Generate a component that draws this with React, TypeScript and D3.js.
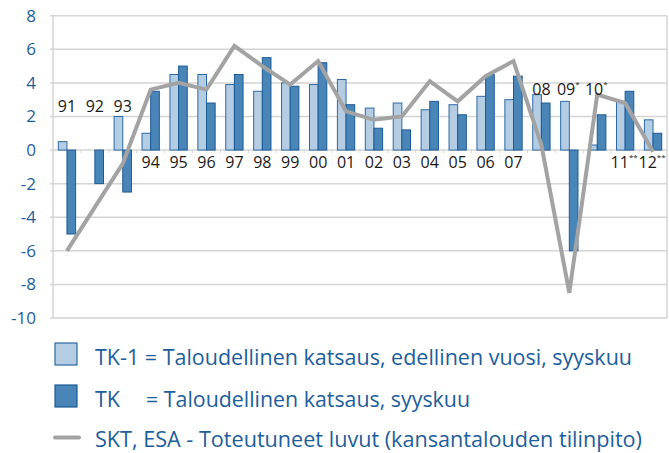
import React from "react";
import * as d3 from "d3";

const categories = ["91","92","93","94","95","96","97","98","99","00","01","02","03","04","05","06","07","08","09","10","11","12"];
const tk1Values: (number | null)[] = [0.5, null, 2.0, 1.0, 4.5, 4.5, 3.9, 3.5, 4.0, 3.9, 4.2, 2.5, 2.8, 2.4, 2.7, 3.2, 3.0, 3.3, 2.9, 0.3, 2.9, 1.8];
const tkValues: number[] = [-5.0, -2.0, -2.5, 3.5, 5.0, 2.8, 4.5, 5.5, 3.8, 5.2, 2.7, 1.3, 1.2, 2.9, 2.1, 4.5, 4.4, 2.8, -6.0, 2.1, 3.5, 1.0];
const sktValues: number[] = [-6.0, -3.4, -0.8, 3.6, 4.0, 3.6, 6.2, 5.0, 3.9, 5.3, 2.3, 1.8, 2.0, 4.1, 2.9, 4.4, 5.3, 0.3, -8.5, 3.3, 2.8, -0.1];
// label placement: "above" or "below" the zero line, plus superscript marks
const labelPos = ["above","above","above","below","below","below","below","below","below","below","below","below","below","below","below","below","below","above","above","above","below","below"];
const labelMarks = ["","","","","","","","","","","","","","","","","","","*","*","**","**"];
const yTicks = [8, 6, 4, 2, 0, -2, -4, -6, -8, -10];

const legendItems = [
  { key: "tk1", label: "TK-1 = Taloudellinen katsaus, edellinen vuosi, syyskuu" },
  { key: "tk", label: "= Taloudellinen katsaus, syyskuu", prefix: "TK" },
  { key: "skt", label: "SKT, ESA - Toteutuneet luvut (kansantalouden tilinpito)" },
];

const W = 669, H = 453;
const left = 53, right = 667, top = 15.7, bottom = 318;
const blue = "#1d5e9c";
const lightFill = "#b5cde3";
const lightStroke = "#2b6aa6";
const darkFill = "#4a85b8";
const darkStroke = "#1c5a97";
const lineColor = "#a3a3a3";
const gridColor = "#d4d4d4";
const font = "'Open Sans', sans-serif";

export default function App() {
  const x = d3.scaleBand<string>().domain(categories).range([left, right]).padding(0);
  const y = d3.scaleLinear().domain([-10, 8]).range([bottom, top]);
  const bw = x.bandwidth();
  const barW = bw * 0.31;
  const cx = (c: string) => (x(c) as number) + bw / 2;
  const y0 = y(0);

  const line = d3.line<number>()
    .x((_, i) => cx(categories[i]))
    .y((d) => y(d));

  return (
    <div style={{ position: "absolute", left: 0, top: 0 }}>
      <svg width={W} height={H} style={{ display: "block", background: "#fff" }}>
        {/* gridlines */}
        {yTicks.map((t) => (
          <g key={t}>
            <line x1={left - 3} x2={right} y1={y(t)} y2={y(t)} stroke={gridColor} strokeWidth={1.5} />
            <text x={36} y={y(t) + 6} textAnchor="end" fontFamily={font} fontSize={17} fill={blue}>{t}</text>
          </g>
        ))}
        <line x1={left} x2={left} y1={top} y2={bottom} stroke={gridColor} strokeWidth={1.5} />
        <line x1={right} x2={right} y1={top} y2={bottom} stroke={gridColor} strokeWidth={1.5} />
        {/* category ticks on zero line */}
        {categories.map((c) => (
          <line key={"t" + c} x1={x(c) as number} x2={x(c) as number} y1={y0} y2={y0 + 3} stroke={gridColor} strokeWidth={1} />
        ))}
        {/* bars */}
        {categories.map((c, i) => {
          const v1 = tk1Values[i];
          const v2 = tkValues[i];
          const c0 = cx(c);
          return (
            <g key={"b" + c}>
              {v1 !== null && (
                <rect x={c0 - barW} y={Math.min(y(v1), y0)} width={barW} height={Math.abs(y(v1) - y0)}
                  fill={lightFill} stroke={lightStroke} strokeWidth={1} />
              )}
              <rect x={c0} y={Math.min(y(v2), y0)} width={barW} height={Math.abs(y(v2) - y0)}
                fill={darkFill} stroke={darkStroke} strokeWidth={1} />
            </g>
          );
        })}
        {/* line */}
        <path d={line(sktValues) || ""} fill="none" stroke={lineColor} strokeWidth={4} strokeLinejoin="miter" strokeMiterlimit={3} />
        {/* year labels */}
        {categories.map((c, i) => {
          const above = labelPos[i] === "above";
          const by = above ? (i < 3 ? 112.3 : 95) : 168.3;
          const mark = labelMarks[i];
          return (
            <text key={"l" + c} x={cx(c) + (mark ? -1 : 0)} y={by} textAnchor="middle" fontFamily={font} fontSize={16} fill="#1a1a1a">
              {c}
              {mark && <tspan fontSize={8} dy={-8}>{mark}</tspan>}
            </text>
          );
        })}
        {/* legend */}
        <rect x={55} y={343} width={22} height={22} fill={lightFill} stroke={lightStroke} strokeWidth={1.2} />
        <text x={95} y={365} fontFamily={font} fontSize={21} fill={blue} textLength={537} lengthAdjust="spacingAndGlyphs">{legendItems[0].label}</text>
        <rect x={55} y={385} width={22} height={22} fill={darkFill} stroke={darkStroke} strokeWidth={1.2} />
        <text x={95} y={406.7} fontFamily={font} fontSize={21} fill={blue} textLength={25} lengthAdjust="spacingAndGlyphs">{legendItems[1].prefix}</text>
        <text x={146} y={406.7} fontFamily={font} fontSize={21} fill={blue} textLength={324} lengthAdjust="spacingAndGlyphs">{legendItems[1].label}</text>
        <line x1={55} x2={79} y1={437.5} y2={437.5} stroke={lineColor} strokeWidth={4} strokeLinecap="round" />
        <text x={95} y={446.7} fontFamily={font} fontSize={21} fill={blue} textLength={547} lengthAdjust="spacingAndGlyphs">{legendItems[2].label}</text>
      </svg>
    </div>
  );
}
